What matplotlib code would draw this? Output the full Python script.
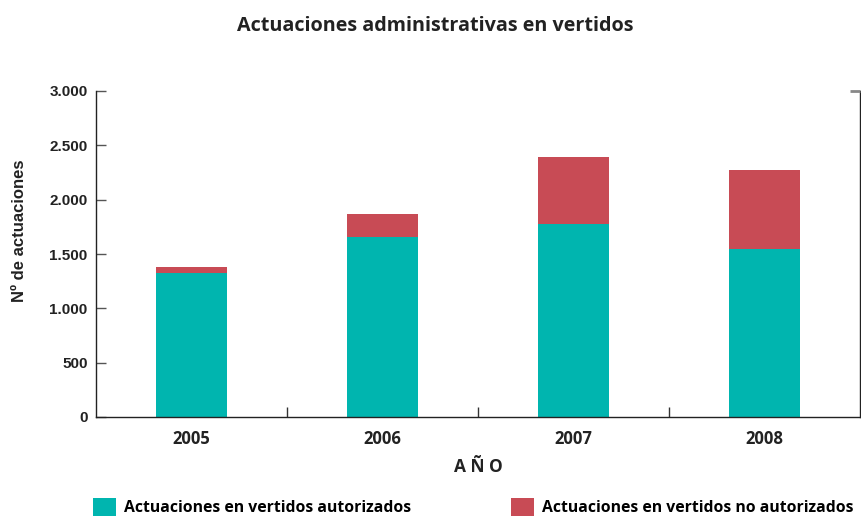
import matplotlib.pyplot as plt
import numpy as np

years = ["2005", "2006", "2007", "2008"]
autorizados = [1329, 1659, 1780, 1543]
no_autorizados = [49, 210, 610, 728]
y_ticks = [0, 500, 1000, 1500, 2000, 2500, 3000]
y_tick_labels = ["0", "500", "1.000", "1.500", "2.000", "2.500", "3.000"]

teal = "#00B5AF"
red = "#C84B55"
font = ["Open Sans", "DejaVu Sans"]
ink = "#222222"

fig = plt.figure(figsize=(8.62, 5.16), dpi=100)
ax = fig.add_axes([96 / 862, 1 - 417 / 516, 764 / 862, 326 / 516])

x = np.arange(len(years))
ax.bar(x, autorizados, width=0.375, color=teal,
       label="Actuaciones en vertidos autorizados")
ax.bar(x, no_autorizados, width=0.375, bottom=autorizados, color=red,
       label="Actuaciones en vertidos no autorizados")

ax.set_xlim(-0.5, len(years) - 0.5)
ax.set_ylim(0, 3000)

ax.spines["top"].set_visible(False)
for s in ["left", "right", "bottom"]:
    ax.spines[s].set_color(ink)
    ax.spines[s].set_linewidth(1.0)

ax.set_yticks(y_ticks)
ax.set_yticklabels(y_tick_labels, fontfamily="Liberation Sans",
                   fontweight="bold", fontsize=11, color=ink)
ax.tick_params(axis="y", direction="in", length=7, width=1, color="#555555", pad=6)

# year labels centred under bars, ticks between categories
ax.set_xticks(x)
ax.set_xticklabels(years, fontfamily=font, fontweight="bold",
                   fontsize=12, color=ink)
ax.tick_params(axis="x", length=0, pad=9)
ax.set_xticks(x[:-1] + 0.5, minor=True)
ax.tick_params(axis="x", which="minor", direction="in", length=7, width=1,
               color="#333333")

# short grey tick on the right spine at the top
ax2 = ax.twinx()
ax2.set_ylim(0, 3000)
ax2.set_yticks([3000])
ax2.set_yticklabels([""])
ax2.tick_params(axis="y", direction="in", length=7, width=2, color="#888888")
for s in ax2.spines.values():
    s.set_visible(False)

ax.set_ylabel("Nº de actuaciones", fontfamily="Liberation Sans",
              fontweight="bold", fontsize=12, color=ink)
ax.yaxis.set_label_coords(-0.090, 0.571)
ax.set_xlabel("A Ñ O", fontfamily=font, fontweight="bold",
              fontsize=12.5, color=ink)
ax.xaxis.set_label_coords(0.5, -0.126)

fig.text(0.505, 0.950, "Actuaciones administrativas en vertidos",
         ha="center", va="center", fontfamily=font, fontweight="bold",
         fontsize=14.2, color=ink)

fig.legend(loc="center left", bbox_to_anchor=(85 / 862, 9 / 516), ncol=2,
           frameon=False, borderpad=0, handlelength=1.45, handleheight=1.35,
           handletextpad=0.56, columnspacing=6.33,
           prop={"family": font, "weight": "bold", "size": 11.3})

fig.savefig("out.png", dpi=100)
